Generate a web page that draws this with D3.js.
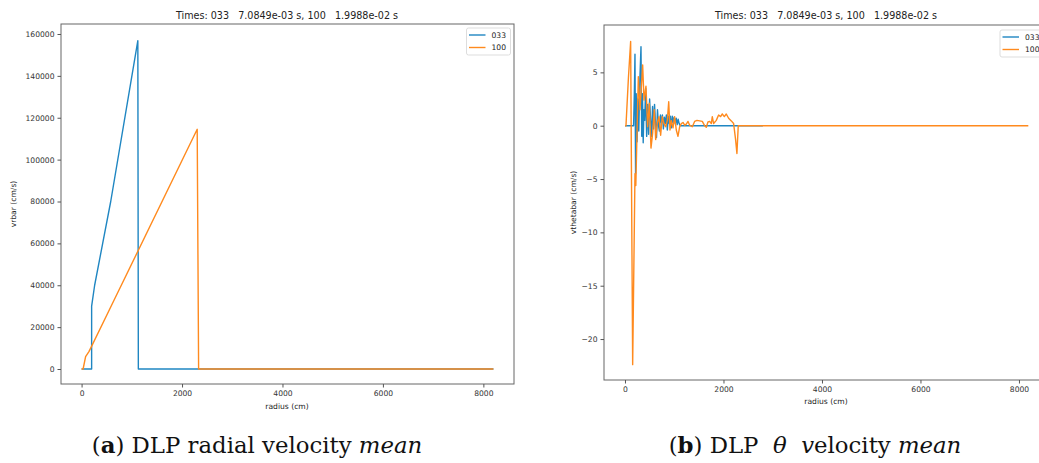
<!DOCTYPE html>
<html lang="en">
<head>
<meta charset="utf-8">
<script src="https://d3js.org/d3.v7.min.js"></script>
<style>
  body { margin: 0; background: #fff; }
  svg { display: block; }
  .tick text { font-family: 'DejaVu Sans', sans-serif; font-size: 7.6px; fill: #333; }
  .tick line { stroke: #555; }
  .domain { stroke: none; }
  .title, .axlabel, .legend text { font-family: 'DejaVu Sans', sans-serif; fill: #222; }
  .title { white-space: pre; }
  .caption { font-family: 'DejaVu Serif', serif; font-size: 22.8px; fill: #111; white-space: pre; }
</style>
</head>
<body>
<div id="chart"></div>
<script>

// ---------- data ----------
var titleText = "Times: 033   7.0849e-03 s, 100   1.9988e-02 s";
var seriesNames = ["033", "100"];
var xTicks = [0, 2000, 4000, 6000, 8000];
var vrTicks = [0, 20000, 40000, 60000, 80000, 100000, 120000, 140000, 160000];
var vthTicks = [-20, -15, -10, -5, 0, 5];

// radial velocity mean, [radius, vrbar]
var vr033 = [[0,0],[200,0],[200,30000],[260,40000],[420,60000],[580,80000],[1120,156800],
  [1130,0],[2330,0],[8200,0]];
var vr100 = [[0,0],[30,0],[80,5900],[146,8300],[213,11500],[643,32700],[2302,114500],
  [2330,0],[8200,0]];

// theta velocity mean, [radius, vthetabar]
var vth033 = [[0,0],[150,0],[175,0],[190,3.0],[203,6.7],[215,-4.5],[228,3.0],[245,-1.5],
  [262,2.5],[280,-0.5],[300,4.0],[325,7.4],[340,-1.0],[355,3.0],[370,-1.6],[385,1.5],
  [400,0.5],[420,3.5],[440,-1.0],[460,2.0],[480,-0.8],[500,2.5],[520,0.5],[540,-1.0],
  [560,1.8],[580,-0.3],[600,2.0],[620,0.2],[640,-1.1],[660,1.5],[680,0.0],[700,-0.5],
  [720,1.0],[740,0.3],[760,1.0],[780,-0.3],[800,0.8],[820,0.2],[840,1.0],[860,-0.4],
  [880,0.9],[900,0.2],[920,0.9],[940,-0.2],[960,0.9],[980,0.3],[1000,0.8],[1020,0.2],
  [1040,0.7],[1060,0.1],[1080,0.6],[1100,0.2],[1120,0],[2800,0]];
var vth100 = [[0,0],[20,0],[70,4.5],[115,7.9],[156,-22.4],[203,-4.5],[220,-5.6],[271,4.6],
  [305,1.5],[359,5.7],[386,2.4],[426,3.7],[460,-0.1],[494,2.1],[528,-2.1],[562,-0.7],
  [595,1.5],[623,-1.3],[656,0.25],[690,0.85],[724,-0.9],[757,0.85],[792,0.2],[826,-0.1],
  [860,0.5],[888,2.25],[914,-0.4],[940,0.5],[975,-0.2],[1008,0.85],[1042,-0.4],[1076,-1.0],
  [1110,-0.1],[1144,0.2],[1178,0.3],[1212,0.05],[1245,0.15],[1280,0.4],[1313,0.05],
  [1367,-0.1],[1414,0.4],[1462,0.5],[1516,0.45],[1570,0.4],[1617,0],[1651,-0.15],
  [1685,0.35],[1719,0.4],[1753,0.2],[1773,0.85],[1800,0.2],[1854,0.5],[1901,1.0],
  [1942,0.85],[1976,1.1],[2017,0.85],[2057,1.1],[2104,0.7],[2159,0.45],[2206,0.2],
  [2246,-1.3],[2273,-2.6],[2300,0],[2330,0],[8190,0]];

var colors = ["#1f86c2", "#ff8a1e"];

var svg = d3.select("#chart").append("svg")
  .attr("width", 1039)
  .attr("height", 463);

////////////////////////////////////////////////////////////
////////////////////// one panel ///////////////////////////
////////////////////////////////////////////////////////////

function drawPanel(p) {
  var x = d3.scaleLinear().domain(p.xDomain).range([p.left, p.right]);
  var y = d3.scaleLinear().domain(p.yDomain).range([p.bottom, p.top]);

  var g = svg.append("g");

  var clipId = "clip" + p.id;
  g.append("clipPath").attr("id", clipId)
    .append("rect")
    .attr("x", p.left).attr("y", p.top)
    .attr("width", p.right - p.left).attr("height", p.bottom - p.top);

  var line = d3.line()
    .x(function(d) { return x(d[0]); })
    .y(function(d) { return y(d[1]); });

  p.series.forEach(function(s, i) {
    g.append("path")
      .datum(s)
      .attr("clip-path", "url(#" + clipId + ")")
      .attr("fill", "none")
      .attr("stroke", colors[i])
      .attr("stroke-width", 1.4)
      .attr("stroke-linejoin", "round")
      .attr("d", line);
  });

  // frame
  g.append("rect")
    .attr("x", p.left).attr("y", p.top)
    .attr("width", p.right - p.left).attr("height", p.bottom - p.top)
    .attr("fill", "none").attr("stroke", "#666").attr("stroke-width", 1);

  g.append("g")
    .attr("transform", "translate(0," + p.bottom + ")")
    .call(d3.axisBottom(x).tickValues(xTicks).tickSize(3.5).tickPadding(3)
      .tickFormat(d3.format("d")));

  g.append("g")
    .attr("transform", "translate(" + p.left + ",0)")
    .call(d3.axisLeft(y).tickValues(p.yTicks).tickSize(3.5).tickPadding(3)
      .tickFormat(function(d) { return d < 0 ? "\u2212" + Math.abs(d) : d; }));

  g.append("text").attr("class", "title")
    .attr("x", p.titleX).attr("y", 19)
    .attr("text-anchor", "middle").style("font-size", "9.6px")
    .text(titleText);

  g.append("text").attr("class", "axlabel")
    .attr("x", p.xLabelX).attr("y", p.xLabelY)
    .attr("text-anchor", "middle").style("font-size", "7.6px")
    .text("radius (cm)");

  g.append("text").attr("class", "axlabel")
    .attr("transform", "translate(" + p.yLabelX + "," + (p.top + p.bottom) / 2 + ") rotate(-90)")
    .attr("text-anchor", "middle").style("font-size", "7.6px")
    .text(p.yLabel);

  // legend
  var lg = g.append("g").attr("class", "legend");
  lg.append("rect")
    .attr("x", p.legX).attr("y", p.legY)
    .attr("width", 44).attr("height", 27).attr("rx", 2)
    .attr("fill", "#fff").attr("stroke", "#ddd");
  seriesNames.forEach(function(n, i) {
    var ly = p.legY + 7 + i * 12.5;
    lg.append("line")
      .attr("x1", p.legX + 2.5).attr("x2", p.legX + 19)
      .attr("y1", ly).attr("y2", ly)
      .attr("stroke", colors[i]).attr("stroke-width", 1.4);
    lg.append("text")
      .attr("x", p.legX + 25).attr("y", ly + 2.8)
      .style("font-size", "7.6px")
      .text(n);
  });
}

drawPanel({
  id: "a", left: 61, right: 514, top: 24, bottom: 384,
  xDomain: [-410, 8610], yDomain: [-7164, 164776],
  yTicks: vrTicks, series: [vr033, vr100],
  yLabel: "vrbar (cm/s)", yLabelX: 16, xLabelX: 287, xLabelY: 409, titleX: 287,
  legX: 466.5, legY: 28
});

drawPanel({
  id: "b", left: 604, right: 1049, top: 25, bottom: 380,
  xDomain: [-426, 8610], yDomain: [-23.84, 9.44],
  yTicks: vthTicks, series: [vth033, vth100],
  yLabel: "vthetabar (cm/s)", yLabelX: 576, xLabelX: 826, xLabelY: 404, titleX: 826,
  legX: 1000, legY: 30
});

////////////////////////////////////////////////////////////
////////////////////// captions ////////////////////////////
////////////////////////////////////////////////////////////

var capA = svg.append("text").attr("class", "caption")
  .attr("x", 257).attr("y", 453).attr("text-anchor", "middle");
capA.append("tspan").text("(");
capA.append("tspan").style("font-weight", "bold").text("a");
capA.append("tspan").text(") DLP radial velocity ");
capA.append("tspan").style("font-style", "italic").text("mean");

var capB = svg.append("text").attr("class", "caption")
  .attr("x", 815).attr("y", 453).attr("text-anchor", "middle");
capB.append("tspan").text("(");
capB.append("tspan").style("font-weight", "bold").text("b");
capB.append("tspan").text(") DLP  ");
capB.append("tspan").style("font-style", "italic").text("\u03b8");
capB.append("tspan").text("  ");
capB.append("tspan").style("font-style", "italic").text("v");
capB.append("tspan").text("elocity ");
capB.append("tspan").style("font-style", "italic").text("mean");

</script>
</body>
</html>
